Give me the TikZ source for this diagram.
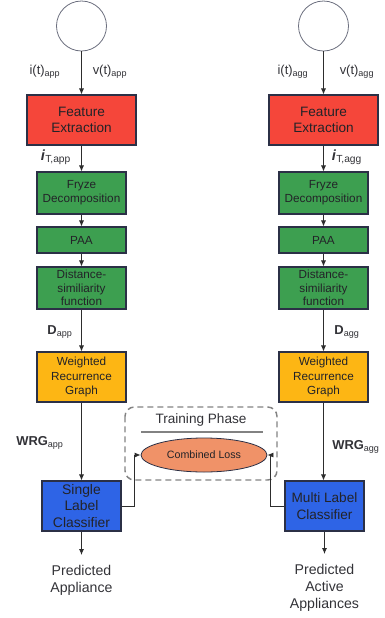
\documentclass[tikz,border=0pt]{standalone}
\usepackage{fontspec}
\setmainfont{Liberation Sans}
\usetikzlibrary{arrows.meta,shapes.geometric}
\definecolor{feRed}{RGB}{245,70,58}
\definecolor{stepGreen}{RGB}{61,159,80}
\definecolor{wrgOrange}{RGB}{253,182,20}
\definecolor{clsBlue}{RGB}{46,100,230}
\definecolor{lossSalmon}{RGB}{240,146,104}
\definecolor{boxLine}{RGB}{43,48,70}
\definecolor{boxText}{RGB}{35,35,40}
\definecolor{lineGray}{RGB}{45,45,45}
\definecolor{dashGray}{RGB}{130,130,130}
\definecolor{lblText}{RGB}{50,50,55}

\begin{document}
\begin{tikzpicture}[x=0.75pt,y=-0.75pt,
    blk/.style={draw=boxLine,line width=0.8pt,inner sep=0pt,align=center,text=boxText},
    stepblk/.style={blk,fill=stepGreen,minimum width=66.75pt,font=\fontsize{8.8}{10.3}\selectfont},
    arr/.style={-{Latex[length=4.5pt,width=3.8pt]},draw=lineGray,line width=0.6pt},
    lbl/.style={text=lblText,inner sep=0pt,font=\fontsize{9.7}{11}\selectfont},
    outtxt/.style={text=lblText,inner sep=1pt,outer ysep=6.5pt,align=center,font=\fontsize{10.6}{12.8}\selectfont}]
    \useasboundingbox (0,0) rectangle (385,618);

    \node[draw=boxLine!70,circle,minimum size=37.5pt,line width=0.6pt] (srcL) at (81.5,26) {};
    \node[lbl] (iL) at (45,72) {i(t)\textsubscript{app}};
    \node[lbl] (vL) at (110,72) {v(t)\textsubscript{app}};
    \node[blk,fill=feRed,minimum width=81.75pt,minimum height=37.5pt,font=\fontsize{10.2}{12.4}\selectfont] (feL) at (81.5,120) {Feature\\Extraction};
    \node[lbl] (itL) at (56,157) {\fontsize{11}{11}\selectfont\textbf{\textit{i}}\textsubscript{T,app}};
    \node[stepblk,minimum height=31.5pt] (fryL) at (81.5,193) {Fryze\\Decomposition};
    \node[stepblk,minimum height=19.5pt] (paaL) at (81.5,240) {PAA};
    \node[stepblk,minimum height=31.5pt] (distL) at (81.5,288) {Distance-\\similiarity\\function};
    \node[lbl] (dL) at (60,332) {\textbf{D}\textsubscript{app}};
    \node[blk,fill=wrgOrange,minimum width=66.75pt,minimum height=37.5pt,font=\fontsize{8.8}{10.6}\selectfont] (wrgL) at (81.5,377) {Weighted\\Recurrence\\Graph};
    \node[lbl] (wL) at (40,443) {\textbf{WRG}\textsubscript{app}};
    \node[blk,fill=clsBlue,minimum width=59.25pt,minimum height=37.5pt,font=\fontsize{10.4}{12.5}\selectfont] (clsL) at (81.5,506) {Single\\Label\\Classifier};
    \node[outtxt,anchor=north] (predL) at (81.5,555) {Predicted\\Appliance};

    \node[draw=boxLine!70,circle,minimum size=37.5pt,line width=0.6pt] (srcR) at (323.5,26) {};
    \node[lbl] (iR) at (293,72) {i(t)\textsubscript{agg}};
    \node[lbl] (vR) at (357,72) {v(t)\textsubscript{agg}};
    \node[blk,fill=feRed,minimum width=81.75pt,minimum height=37.5pt,font=\fontsize{10.2}{12.4}\selectfont] (feR) at (323.5,120) {Feature\\Extraction};
    \node[lbl] (itR) at (347,157) {\fontsize{11}{11}\selectfont\textbf{\textit{i}}\textsubscript{T,agg}};
    \node[stepblk,minimum height=31.5pt] (fryR) at (323.5,193) {Fryze\\Decomposition};
    \node[stepblk,minimum height=19.5pt] (paaR) at (323.5,240) {PAA};
    \node[stepblk,minimum height=31.5pt] (distR) at (323.5,288) {Distance-\\similiarity\\function};
    \node[lbl] (dR) at (347,332) {\textbf{D}\textsubscript{agg}};
    \node[blk,fill=wrgOrange,minimum width=66.75pt,minimum height=37.5pt,font=\fontsize{8.8}{10.6}\selectfont] (wrgR) at (323.5,377) {Weighted\\Recurrence\\Graph};
    \node[lbl] (wR) at (356,447) {\textbf{WRG}\textsubscript{agg}};
    \node[blk,fill=clsBlue,minimum width=59.25pt,minimum height=37.5pt,font=\fontsize{10.2}{12.5}\selectfont] (clsR) at (324.5,506) {Multi Label\\Classifier};
    \node[outtxt,anchor=north] (predR) at (324.5,554) {Predicted\\Active\\Appliances};

    \draw[dashGray,line width=1.1pt,dash pattern=on 4.5pt off 3pt,rounded corners=7pt] (125,407) rectangle (277,480);
    \node[text=lblText,font=\fontsize{10.2}{12}\selectfont] (phase) at (201,420) {Training Phase};
    \draw[dashGray,line width=1.2pt] (141,432) -- (263,432);
    \node[draw=boxLine,fill=lossSalmon,ellipse,minimum width=94.5pt,minimum height=25.5pt,inner sep=0pt,line width=0.6pt,text=boxText,font=\fontsize{8}{10}\selectfont] (loss) at (204,455) {Combined Loss};

    \draw[arr] (srcL) -- (feL);
    \draw[arr] (feL) -- (fryL);
    \draw[arr] (fryL) -- (paaL);
    \draw[arr] (paaL) -- (distL);
    \draw[arr] (distL) -- (wrgL);
    \draw[arr] (wrgL) -- (clsL);
    \draw[arr] (clsL) -- (predL);
    \draw[arr] (srcR) -- (feR);
    \draw[arr] (feR) -- (fryR);
    \draw[arr] (fryR) -- (paaR);
    \draw[arr] (paaR) -- (distR);
    \draw[arr] (distR) -- (wrgR);
    \draw[arr] (wrgR) -- (clsR.north -| wrgR.south);
    \draw[arr] (clsR) -- (predR);
    \draw[arr] (clsL.east) -- ++(13,0) |- (loss.west);
    \draw[arr] (clsR.west) -- ++(-14,0) |- (loss.east);
\end{tikzpicture}
\end{document}
